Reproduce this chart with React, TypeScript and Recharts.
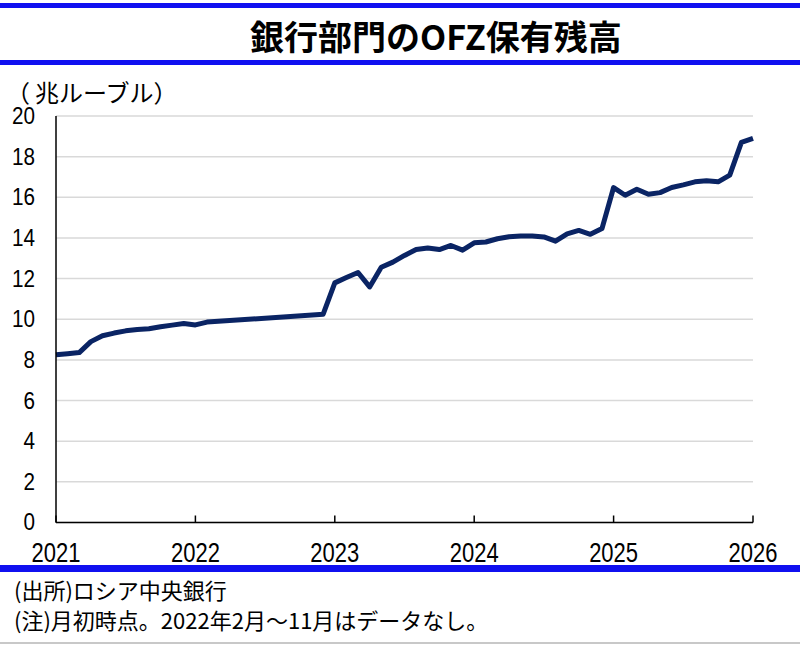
import React from "react";
import { LineChart, Line, XAxis, YAxis, CartesianGrid } from "recharts";

const months: string[] = [
  "2021-01", "2021-02", "2021-03", "2021-04", "2021-05", "2021-06",
  "2021-07", "2021-08", "2021-09", "2021-10", "2021-11", "2021-12",
  "2022-01", "2022-02", "2022-12",
  "2023-01", "2023-02", "2023-03", "2023-04", "2023-05", "2023-06",
  "2023-07", "2023-08", "2023-09", "2023-10", "2023-11", "2023-12",
  "2024-01", "2024-02", "2024-03", "2024-04", "2024-05", "2024-06",
  "2024-07", "2024-08", "2024-09", "2024-10", "2024-11", "2024-12",
  "2025-01", "2025-02", "2025-03", "2025-04", "2025-05", "2025-06",
  "2025-07", "2025-08", "2025-09", "2025-10", "2025-11", "2025-12",
  "2026-01",
];

const holdings: number[] = [
  8.25, 8.3, 8.36, 8.9, 9.19, 9.32,
  9.43, 9.5, 9.53, 9.63, 9.71, 9.79,
  9.72, 9.86, 10.25,
  11.79, 12.05, 12.3, 11.59, 12.56, 12.81,
  13.14, 13.43, 13.51, 13.43, 13.63, 13.4,
  13.76, 13.8, 13.96, 14.06, 14.1, 14.1,
  14.05, 13.84, 14.2, 14.37, 14.18, 14.46,
  16.48, 16.1, 16.4, 16.15, 16.23, 16.48,
  16.61, 16.76, 16.81, 16.76, 17.09, 18.7,
  18.9,
];

const yearTicks: number[] = [2021, 2022, 2023, 2024, 2025, 2026];
const yTicks: number[] = [0, 2, 4, 6, 8, 10, 12, 14, 16, 18, 20];

const title = "銀行部門のOFZ保有残高";
const unitOpen = "（";
const unitBody = "兆ルーブル）";
const sourceNote = "(出所)ロシア中央銀行";
const footNote = "(注)月初時点。2022年2月～11月はデータなし。";

const BASE_YEAR = 2021;
const data = months.map((m, i) => {
  const [y, mo] = m.split("-").map(Number);
  return { t: (y - BASE_YEAR) * 12 + (mo - 1), v: holdings[i] };
});
const xTickValues = yearTicks.map((y) => (y - BASE_YEAR) * 12);

const FONT_JP = "'Noto Sans CJK JP', 'Noto Sans', sans-serif";
const FONT_NUM = "'Liberation Sans', Arial, sans-serif";
const BLUE = "#1010f0";
const NAVY = "#0a2464";

const XTick = (props: any) => {
  const { x, y, payload } = props;
  return (
    <text
      transform={`translate(${x},${y + 29.5}) scale(0.8,1)`}
      textAnchor="middle"
      dominantBaseline="central"
      fontFamily={FONT_NUM}
      fontSize={27.5}
      fill="#000"
    >
      {BASE_YEAR + payload.value / 12}
    </text>
  );
};

const YTick = (props: any) => {
  const { x, y, payload } = props;
  return (
    <text
      transform={`translate(${x},${y}) scale(0.88,1)`}
      textAnchor="end"
      dominantBaseline="central"
      fontFamily={FONT_NUM}
      fontSize={23.5}
      fill="#000"
    >
      {payload.value}
    </text>
  );
};

export default function App() {
  return (
    <div
      style={{
        position: "absolute",
        left: 0,
        top: 0,
        width: 800,
        height: 645,
        background: "#fff",
        overflow: "hidden",
      }}
    >
      <svg
        width={800}
        height={645}
        style={{ position: "absolute", left: 0, top: 0 }}
      >
        <rect x={0} y={3} width={800} height={5} fill={BLUE} />
        <rect x={0} y={60} width={800} height={5} fill={BLUE} />
        <rect x={0} y={565} width={800} height={7} fill={BLUE} />
        <rect x={0} y={642} width={800} height={2} fill="#c8c8c8" />
        <text
          x={436}
          y={35}
          textAnchor="middle"
          dominantBaseline="central"
          fontFamily={FONT_JP}
          fontWeight={700}
          fontSize={34}
          fill="#000"
        >
          {title}
        </text>
        <text
          x={6}
          y={91}
          dominantBaseline="central"
          fontFamily={FONT_JP}
          fontSize={24}
          fill="#000"
        >
          <tspan>{unitOpen}</tspan>
          <tspan dx={5}>{unitBody}</tspan>
        </text>
        <text
          x={14}
          y={589}
          dominantBaseline="central"
          fontFamily={FONT_JP}
          fontSize={22}
          fill="#000"
        >
          {sourceNote}
        </text>
        <text
          x={14}
          y={619}
          dominantBaseline="central"
          fontFamily={FONT_JP}
          fontSize={22}
          fill="#000"
        >
          {footNote}
        </text>
      </svg>
      <div style={{ position: "absolute", left: 0, top: 0 }}>
        <LineChart
          width={800}
          height={645}
          data={data}
          margin={{ top: 116, right: 47, bottom: 92.5, left: 0 }}
        >
          <CartesianGrid
            vertical={false}
            stroke="#d9d9d9"
            strokeWidth={1.5}
          />
          <XAxis
            dataKey="t"
            type="number"
            domain={[0, 60]}
            ticks={xTickValues}
            interval={0}
            height={30}
            tickSize={-7}
            tickMargin={7}
            axisLine={{ stroke: "#000", strokeWidth: 1.5 }}
            tickLine={{ stroke: "#000", strokeWidth: 1.5 }}
            tick={<XTick />}
          />
          <YAxis
            type="number"
            domain={[0, 20]}
            ticks={yTicks}
            interval={0}
            width={56}
            tickSize={0}
            tickMargin={21}
            tickLine={false}
            axisLine={{ stroke: "#000", strokeWidth: 1.5 }}
            tick={<YTick />}
          />
          <Line
            type="linear"
            dataKey="v"
            stroke={NAVY}
            strokeWidth={5}
            strokeLinejoin="round"
            dot={false}
            activeDot={false}
            isAnimationActive={false}
          />
        </LineChart>
      </div>
    </div>
  );
}
